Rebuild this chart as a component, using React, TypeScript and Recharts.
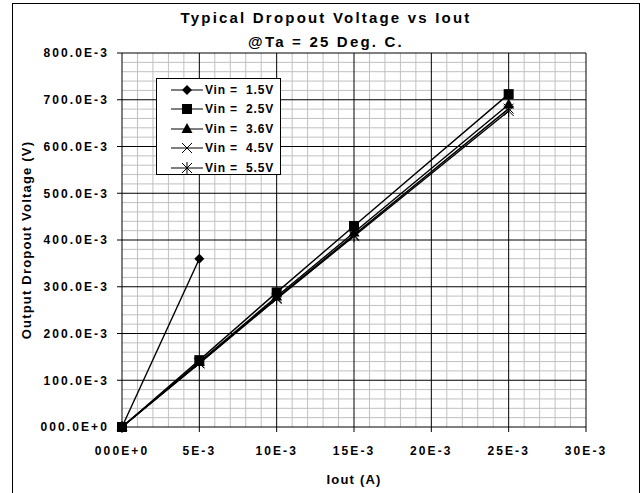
import React from "react";
import { LineChart, Line, XAxis, YAxis, ReferenceLine } from "recharts";

// Iout (A) per measurement point
const ioutLow = [0, 0.005];
const ioutAll = [0, 0.005, 0.01, 0.015, 0.025];

// dropout voltage (V) per supply
const vin15 = [0, 0.36];
const vin25 = [0, 0.143, 0.288, 0.43, 0.712];
const vin36 = [0, 0.139, 0.279, 0.416, 0.69];
const vin45 = [0, 0.137, 0.276, 0.411, 0.681];
const vin55 = [0, 0.136, 0.274, 0.408, 0.676];

const xTicks = [0, 0.005, 0.01, 0.015, 0.02, 0.025, 0.03];
const yTicks = [0, 0.1, 0.2, 0.3, 0.4, 0.5, 0.6, 0.7, 0.8];

const xMinor = Array.from({ length: 31 }, (_, i) => i / 1000).filter((_, i) => i % 5 !== 0);
const yMinor = Array.from({ length: 41 }, (_, i) => (i * 2) / 100).filter((_, i) => i % 5 !== 0);

const FONT = "'Liberation Sans', Arial, sans-serif";

type Marker = "diamond" | "square" | "triangle" | "cross" | "star";

const toPoints = (xs: number[], ys: number[]) => xs.map((x, i) => ({ x, y: ys[i] }));

const series: { name: string; marker: Marker; data: { x: number; y: number }[] }[] = [
  { name: "Vin =  1.5V", marker: "diamond", data: toPoints(ioutLow, vin15) },
  { name: "Vin =  2.5V", marker: "square", data: toPoints(ioutAll, vin25) },
  { name: "Vin =  3.6V", marker: "triangle", data: toPoints(ioutAll, vin36) },
  { name: "Vin =  4.5V", marker: "cross", data: toPoints(ioutAll, vin45) },
  { name: "Vin =  5.5V", marker: "star", data: toPoints(ioutAll, vin55) },
];

function MarkerShape({ type, cx, cy }: { type: Marker; cx: number; cy: number }) {
  const s = 5;
  switch (type) {
    case "diamond":
      return <polygon points={`${cx},${cy - s} ${cx + s},${cy} ${cx},${cy + s} ${cx - s},${cy}`} fill="#000" />;
    case "square":
      return <rect x={cx - 5} y={cy - 5} width={10} height={10} fill="#000" />;
    case "triangle":
      return <polygon points={`${cx},${cy - 6} ${cx + 5.5},${cy + 4} ${cx - 5.5},${cy + 4}`} fill="#000" />;
    case "cross":
      return (
        <g stroke="#000" strokeWidth={1}>
          <line x1={cx - 5} y1={cy - 5} x2={cx + 5} y2={cy + 5} />
          <line x1={cx - 5} y1={cy + 5} x2={cx + 5} y2={cy - 5} />
        </g>
      );
    default:
      return (
        <g stroke="#000" strokeWidth={1}>
          <line x1={cx - 5} y1={cy - 5} x2={cx + 5} y2={cy + 5} />
          <line x1={cx - 5} y1={cy + 5} x2={cx + 5} y2={cy - 5} />
          <line x1={cx} y1={cy - 6} x2={cx} y2={cy + 6} />
        </g>
      );
  }
}

const fmtY = (v: number) =>
  v === 0 ? "000.0E+0" : `${(v * 1000).toFixed(1).padStart(5, "0")}E-3`;
const fmtX = (v: number) => (v === 0 ? "000E+0" : `${Math.round(v * 1000)}E-3`);

const tickStyle = { fill: "#000", fontSize: 12, fontWeight: 700, fontFamily: FONT, letterSpacing: 2.1 };

function LegendBox() {
  return (
    <div
      style={{
        position: "absolute",
        left: 156,
        top: 78,
        border: "1px solid #000",
        background: "#fff",
        width: 125,
        height: 97,
        boxSizing: "border-box",
        paddingTop: 1,
      }}
    >
      {series.map((s) => (
        <div key={s.name} style={{ display: "flex", alignItems: "center", height: 19.5 }}>
          <svg width={46} height={16} style={{ flex: "none" }}>
            <line x1={14} y1={8} x2={46} y2={8} stroke="#000" strokeWidth={1} />
            <MarkerShape type={s.marker} cx={30} cy={8} />
          </svg>
          <span
            style={{
              fontFamily: FONT,
              fontSize: 12,
              fontWeight: 700,
              letterSpacing: 0.8,
              whiteSpace: "pre",
              marginLeft: 2,
            }}
          >
            {s.name}
          </span>
        </div>
      ))}
    </div>
  );
}

export default function App() {
  return (
    <div style={{ position: "absolute", left: 0, top: 0, width: 643, height: 493, overflow: "hidden", background: "#fff" }}>
      <div
        style={{
          position: "absolute",
          left: 12,
          top: 3,
          width: 628,
          height: 520,
          border: "1px solid #000",
          boxSizing: "border-box",
        }}
      />
      <div
        style={{
          position: "absolute",
          left: 12,
          width: 628,
          top: 6,
          textAlign: "center",
          fontFamily: FONT,
          fontSize: 15,
          fontWeight: 700,
          letterSpacing: 2.2,
          lineHeight: "23.5px",
        }}
      >
        <div>Typical Dropout Voltage vs Iout</div>
        <div>@Ta = 25 Deg. C.</div>
      </div>
      <div
        style={{
          position: "absolute",
          left: 26,
          top: 240,
          transform: "translate(-50%, -50%) rotate(-90deg)",
          whiteSpace: "nowrap",
          fontFamily: FONT,
          fontSize: 13,
          fontWeight: 700,
          letterSpacing: 1.2,
        }}
      >
        Output Dropout Voltage (V)
      </div>
      <div
        style={{
          position: "absolute",
          left: 354,
          top: 479,
          transform: "translate(-50%, -50%)",
          whiteSpace: "nowrap",
          fontFamily: FONT,
          fontSize: 13,
          fontWeight: 700,
          letterSpacing: 1.2,
        }}
      >
        Iout (A)
      </div>
      <div style={{ position: "absolute", left: 0, top: 0 }}>
        <LineChart width={643} height={493} margin={{ top: 53, right: 57, bottom: 6, left: 12 }}>
          <XAxis
            dataKey="x"
            type="number"
            domain={[0, 0.03]}
            ticks={xTicks}
            tickFormatter={fmtX}
            allowDuplicatedCategory={false}
            axisLine={{ stroke: "#000" }}
            tickLine={{ stroke: "#000" }}
            tickSize={5}
            tickMargin={14}
            height={60}
            tick={tickStyle}
            interval={0}
          />
          <YAxis
            dataKey="y"
            type="number"
            domain={[0, 0.8]}
            ticks={yTicks}
            tickFormatter={fmtY}
            axisLine={{ stroke: "#000" }}
            tickLine={{ stroke: "#000" }}
            tickSize={5}
            tickMargin={8}
            width={110}
            tick={tickStyle}
            interval={0}
          />
          {xMinor.map((v) => (
            <ReferenceLine key={`xm${v}`} x={v} stroke="#c0c0c0" strokeWidth={1} />
          ))}
          {yMinor.map((v) => (
            <ReferenceLine key={`ym${v}`} y={v} stroke="#c0c0c0" strokeWidth={1} />
          ))}
          {xTicks.slice(1).map((v) => (
            <ReferenceLine key={`xM${v}`} x={v} stroke="#000" strokeWidth={1} />
          ))}
          {yTicks.slice(1).map((v) => (
            <ReferenceLine key={`yM${v}`} y={v} stroke="#000" strokeWidth={1} />
          ))}
          {series.map((s) => (
            <Line
              key={s.name}
              data={s.data}
              dataKey="y"
              name={s.name}
              type="linear"
              stroke="#000"
              strokeWidth={1.4}
              isAnimationActive={false}
              dot={(p: any) => <MarkerShape key={`${s.name}-${p.index}`} type={s.marker} cx={p.cx} cy={p.cy} />}
              activeDot={false}
            />
          ))}
        </LineChart>
      </div>
      <LegendBox />
    </div>
  );
}
